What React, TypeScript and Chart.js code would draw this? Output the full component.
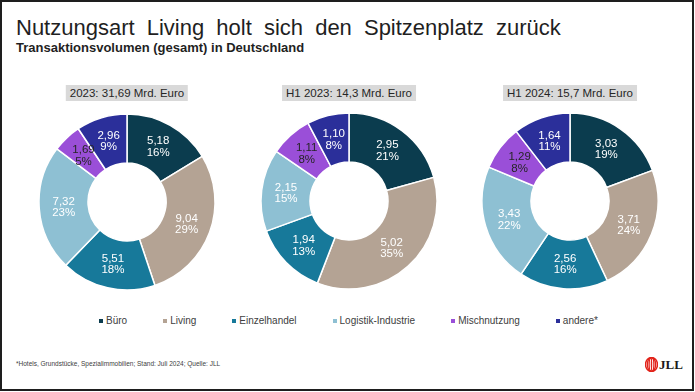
import React, { useEffect, useRef } from "react";
import { Chart, registerables } from "chart.js";

Chart.register(...registerables);

const CATEGORIES = ["Büro", "Living", "Einzelhandel", "Logistik-Industrie", "Mischnutzung", "andere*"];
const COLORS = ["#0b3c4e", "#b4a394", "#17799a", "#8ec0d3", "#9a4fd8", "#2b2f9a"];
const LABEL_COLORS = ["#ffffff", "#ffffff", "#ffffff", "#ffffff", "#262626", "#ffffff"];

const TITLE_2023 = "2023: 31,69 Mrd. Euro";
const VALUES_2023 = [5.18, 9.04, 5.51, 7.32, 1.69, 2.96];
const PCT_2023 = [16, 29, 18, 23, 5, 9];

const TITLE_H1_2023 = "H1 2023: 14,3 Mrd. Euro";
const VALUES_H1_2023 = [2.95, 5.02, 1.94, 2.15, 1.11, 1.1];
const PCT_H1_2023 = [21, 35, 13, 15, 8, 8];

const TITLE_H1_2024 = "H1 2024: 15,7 Mrd. Euro";
const VALUES_H1_2024 = [3.03, 3.71, 2.56, 3.43, 1.29, 1.64];
const PCT_H1_2024 = [19, 24, 16, 22, 8, 11];

const FONT = "'Liberation Sans', Arial, Helvetica, sans-serif";

const fmt = (v: number) => v.toFixed(2).replace(".", ",");

const sliceLabelPlugin = {
  id: "sliceLabels",
  afterDatasetsDraw(chart: any, _args: any, opts: any) {
    const ctx = chart.ctx;
    const meta = chart.getDatasetMeta(0);
    const data = chart.data.datasets[0].data as number[];
    const pcts: number[] = opts.pcts || [];
    meta.data.forEach((arc: any, i: number) => {
      const p = arc.tooltipPosition(false);
      ctx.save();
      ctx.font = `11.5px ${FONT}`;
      ctx.fillStyle = LABEL_COLORS[i];
      ctx.textAlign = "center";
      ctx.textBaseline = "middle";
      ctx.fillText(fmt(data[i]), p.x, p.y - 5.5);
      ctx.fillText(pcts[i] + "%", p.x, p.y + 6);
      ctx.restore();
    });
  },
};

const SIZE = 182;

function Donut(props: { values: number[]; pcts: number[]; cx: number; cy: number; title: string }) {
  const ref = useRef<HTMLCanvasElement | null>(null);
  useEffect(() => {
    if (!ref.current) return;
    const chart = new Chart(ref.current, {
      type: "doughnut",
      data: {
        labels: CATEGORIES,
        datasets: [
          {
            data: props.values,
            backgroundColor: COLORS,
            borderColor: "#ffffff",
            borderWidth: 1.5,
          },
        ],
      },
      options: {
        responsive: false,
        maintainAspectRatio: false,
        animation: false,
        radius: 88,
        cutout: 40,
        layout: { padding: 0 },
        plugins: {
          legend: { display: false },
          tooltip: { enabled: false },
          sliceLabels: { pcts: props.pcts },
        } as any,
      },
      plugins: [sliceLabelPlugin],
    });
    return () => chart.destroy();
  }, []);
  return (
    <>
      <div
        style={{
          position: "absolute",
          left: props.cx,
          top: 85,
          transform: "translateX(-50%)",
          background: "#d9d9d9",
          color: "#262626",
          fontSize: 11.5,
          lineHeight: "16px",
          height: 16,
          padding: "0 4px",
          whiteSpace: "pre",
        }}
      >
        {props.title}
      </div>
      <canvas
        ref={ref}
        width={SIZE}
        height={SIZE}
        style={{
          position: "absolute",
          left: props.cx - SIZE / 2,
          top: props.cy - SIZE / 2,
          width: SIZE,
          height: SIZE,
        }}
      />
    </>
  );
}

export default function App() {
  return (
    <div
      style={{
        position: "fixed",
        left: 0,
        top: 0,
        width: 695,
        height: 392,
        background: "#ffffff",
        overflow: "hidden",
        fontFamily: FONT,
      }}
    >
      <div
        style={{
          position: "absolute",
          left: 0,
          top: 0,
          width: 694,
          height: 391,
          boxSizing: "border-box",
          border: "2px solid #1e1e1e",
        }}
      />
      <div
        style={{
          position: "absolute",
          left: 16,
          top: 15,
          fontSize: 22,
          lineHeight: "26px",
          wordSpacing: 6,
          color: "#1f1f1f",
          whiteSpace: "nowrap",
        }}
      >
        Nutzungsart Living holt sich den Spitzenplatz zurück
      </div>
      <div
        style={{
          position: "absolute",
          left: 16,
          top: 40,
          fontSize: 13,
          lineHeight: "16px",
          fontWeight: "bold",
          color: "#1f1f1f",
          whiteSpace: "nowrap",
        }}
      >
        Transaktionsvolumen (gesamt) in Deutschland
      </div>

      <Donut values={VALUES_2023} pcts={PCT_2023} cx={127} cy={202} title={TITLE_2023} />
      <Donut values={VALUES_H1_2023} pcts={PCT_H1_2023} cx={349} cy={201} title={TITLE_H1_2023} />
      <Donut values={VALUES_H1_2024} pcts={PCT_H1_2024} cx={570} cy={201} title={TITLE_H1_2024} />

      <div
        style={{
          position: "absolute",
          left: 99,
          top: 314,
          display: "flex",
          gap: 36,
          fontSize: 10,
          lineHeight: "14px",
          color: "#404040",
          whiteSpace: "nowrap",
        }}
      >
        {CATEGORIES.map((c, i) => (
          <div key={c} style={{ display: "flex", alignItems: "center" }}>
            <span
              style={{
                display: "inline-block",
                width: 4,
                height: 4,
                background: COLORS[i],
                marginRight: 3,
              }}
            />
            <span>{c}</span>
          </div>
        ))}
      </div>

      <div
        style={{
          position: "absolute",
          left: 16,
          top: 359,
          fontSize: 6.5,
          lineHeight: "9px",
          color: "#404040",
          whiteSpace: "nowrap",
        }}
      >
        *Hotels, Grundstücke, Spezialimmobilien; Stand: Juli 2024; Quelle: JLL
      </div>

      <svg
        style={{ position: "absolute", left: 645, top: 357 }}
        width={13}
        height={15}
        viewBox="0 0 13 15"
      >
        <ellipse cx={6.5} cy={7.5} rx={6} ry={7} fill="none" stroke="#e2231a" strokeWidth={1.4} />
        <ellipse cx={6.5} cy={7.5} rx={4.2} ry={7} fill="none" stroke="#e2231a" strokeWidth={1.3} />
        <ellipse cx={6.5} cy={7.5} rx={2.4} ry={7} fill="none" stroke="#e2231a" strokeWidth={1.3} />
        <ellipse cx={6.5} cy={7.5} rx={0.7} ry={7} fill="#e2231a" />
      </svg>
      <div
        style={{
          position: "absolute",
          left: 659,
          top: 357,
          fontFamily: "'Liberation Serif', 'DejaVu Serif', serif",
          fontWeight: "bold",
          fontSize: 13,
          lineHeight: "15px",
          color: "#1a1a1a",
        }}
      >
        JLL
      </div>
    </div>
  );
}
